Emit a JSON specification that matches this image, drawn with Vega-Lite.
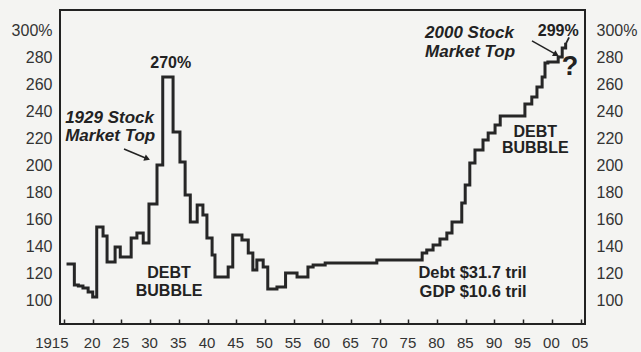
{
  "$schema": "https://vega.github.io/schema/vega-lite/v6.json",
  "width": 525,
  "height": 314,
  "autosize": {"type": "none"},
  "padding": {"left": 60, "top": 10, "right": 56, "bottom": 28},
  "background": "#f4f4f2",
  "config": {
    "view": {"stroke": "#222222", "strokeWidth": 2},
    "font": "Liberation Sans",
    "axis": {"labelOverlap": false, "labelBound": false, "labelFlush": false}
  },
  "datasets": {
    "series": [
      {"year": 1915.7, "value": 127.0},
      {"year": 1916.8, "value": 111.5},
      {"year": 1917.5, "value": 110.7},
      {"year": 1918.3, "value": 109.2},
      {"year": 1919.2, "value": 106.3},
      {"year": 1920.0, "value": 102.6},
      {"year": 1920.7, "value": 154.3},
      {"year": 1921.8, "value": 147.7},
      {"year": 1922.5, "value": 128.5},
      {"year": 1923.9, "value": 139.6},
      {"year": 1924.8, "value": 132.2},
      {"year": 1926.7, "value": 146.2},
      {"year": 1927.7, "value": 149.9},
      {"year": 1928.8, "value": 142.5},
      {"year": 1929.8, "value": 171.3},
      {"year": 1931.2, "value": 200.2},
      {"year": 1932.2, "value": 265.2},
      {"year": 1934.0, "value": 224.6},
      {"year": 1935.2, "value": 202.4},
      {"year": 1936.1, "value": 178.0},
      {"year": 1937.0, "value": 158.0},
      {"year": 1938.2, "value": 170.6},
      {"year": 1939.2, "value": 163.2},
      {"year": 1939.9, "value": 146.2},
      {"year": 1940.8, "value": 133.6},
      {"year": 1941.3, "value": 117.4},
      {"year": 1943.6, "value": 124.8},
      {"year": 1944.4, "value": 148.4},
      {"year": 1946.0, "value": 144.7},
      {"year": 1947.1, "value": 135.1},
      {"year": 1947.9, "value": 122.6},
      {"year": 1948.6, "value": 129.9},
      {"year": 1949.7, "value": 124.8},
      {"year": 1950.5, "value": 108.5},
      {"year": 1952.1, "value": 110.0},
      {"year": 1953.6, "value": 120.3},
      {"year": 1955.6, "value": 117.4},
      {"year": 1957.5, "value": 124.8},
      {"year": 1958.4, "value": 126.2},
      {"year": 1960.5, "value": 127.7},
      {"year": 1969.5, "value": 129.9},
      {"year": 1977.4, "value": 135.1},
      {"year": 1978.2, "value": 137.3},
      {"year": 1979.3, "value": 141.0},
      {"year": 1980.5, "value": 145.5},
      {"year": 1981.7, "value": 149.9},
      {"year": 1982.6, "value": 158.0},
      {"year": 1984.3, "value": 172.1},
      {"year": 1984.9, "value": 185.4},
      {"year": 1985.7, "value": 201.7},
      {"year": 1986.6, "value": 211.3},
      {"year": 1988.0, "value": 218.7},
      {"year": 1988.9, "value": 223.8},
      {"year": 1990.1, "value": 229.8},
      {"year": 1991.0, "value": 236.4},
      {"year": 1995.3, "value": 245.3},
      {"year": 1996.5, "value": 250.5},
      {"year": 1997.4, "value": 257.9},
      {"year": 1998.3, "value": 265.3},
      {"year": 1998.8, "value": 275.6},
      {"year": 1999.3, "value": 276.4},
      {"year": 2001.1, "value": 280.0},
      {"year": 2001.8, "value": 286.7},
      {"year": 2002.4, "value": 289.5}
    ],
    "tail": [
      {"year": 2002.4, "value": 289.5},
      {"year": 2003.0, "value": 294.5}
    ],
    "labels": [
      {"year": 1933.6, "value": 275.6, "text": "270%"},
      {"year": 1933.3, "value": 120.3, "text": "DEBT"},
      {"year": 1933.3, "value": 107.0, "text": "BUBBLE"},
      {"year": 1997.1, "value": 224.6, "text": "DEBT"},
      {"year": 1997.1, "value": 212.8, "text": "BUBBLE"},
      {"year": 2001.1, "value": 299.3, "text": "299%"}
    ],
    "italic": [
      {"year": 1915.2, "value": 234.9, "text": "1929 Stock"},
      {"year": 1915.2, "value": 221.6, "text": "Market Top"},
      {"year": 1977.9, "value": 297.8, "text": "2000 Stock"},
      {"year": 1977.9, "value": 283.7, "text": "Market Top"}
    ],
    "notes": [
      {"year": 1995.6, "value": 120.3, "text": "Debt $31.7 tril"},
      {"year": 1995.6, "value": 106.3, "text": "GDP $10.6 tril"}
    ],
    "question": [
      {"year": 2003.15, "value": 272.6, "text": "?"}
    ],
    "arrows": [
      {"id": "a1929", "year": 1925.45, "value": 212.0, "year2": 1929.3, "value2": 205.2},
      {"id": "a2000", "year": 1996.53, "value": 291.9, "year2": 2000.55, "value2": 282.3}
    ],
    "heads": [
      {"id": "a1929", "year": 1929.5, "value": 204.9},
      {"id": "a2000", "year": 2000.75, "value": 281.8}
    ]
  },
  "resolve": {"axis": {"y": "independent"}},
  "layer": [
    {
      "data": {"name": "series"},
      "mark": {"type": "line", "interpolate": "step-after", "color": "#262626", "strokeWidth": 3, "strokeJoin": "miter", "strokeCap": "square"},
      "encoding": {
        "x": {
          "field": "year", "type": "quantitative",
          "scale": {"domain": [1914.3, 2005.77], "nice": false, "zero": false},
          "axis": {
            "title": null,
            "values": [1915, 1920, 1925, 1930, 1935, 1940, 1945, 1950, 1955, 1960, 1965, 1970, 1975, 1980, 1985, 1990, 1995, 2000, 2005],
            "tickCount": 40,
            "labelExpr": "datum.value == 1915 ? '1915' : substring(toString(datum.value), 2, 4)",
            "labelAlign": {"condition": {"test": "datum.value == 1915", "value": "right"}, "value": "center"},
            "labelOffset": {"condition": {"test": "datum.value == 1915", "value": 4}, "value": -1},
            "domain": false, "grid": false,
            "ticks": true, "tickSize": -5, "tickColor": "#222222", "tickWidth": 1.5,
            "labelFontSize": 15, "labelColor": "#333333", "labelPadding": 16,
            "labelFlush": false, "labelOverlap": false, "labelBound": false
          }
        },
        "y": {
          "field": "value", "type": "quantitative",
          "scale": {"domain": [82.6, 314.8], "nice": false, "zero": false},
          "axis": {
            "title": null, "orient": "left",
            "values": [100, 120, 140, 160, 180, 200, 220, 240, 260, 280, 300],
            "tickCount": 20,
            "labelExpr": "datum.value == 300 ? '300%' : datum.label",
            "domain": false, "grid": false, "ticks": false,
            "labelFontSize": 16, "labelColor": "#333333", "labelPadding": 8,
            "labelOverlap": false
          }
        }
      }
    },
    {
      "data": {"name": "labels"},
      "mark": {"type": "text", "fontWeight": "bold", "fontSize": 16, "color": "#222222", "align": "center", "baseline": "middle"},
      "encoding": {
        "x": {"field": "year", "type": "quantitative"},
        "y": {
          "field": "value", "type": "quantitative",
          "axis": {
            "title": null, "orient": "right",
            "values": [100, 120, 140, 160, 180, 200, 220, 240, 260, 280, 300],
            "tickCount": 20,
            "labelExpr": "datum.value == 300 ? '300%' : datum.label",
            "domain": false, "grid": false, "ticks": false,
            "labelFontSize": 16, "labelColor": "#333333", "labelPadding": 11,
            "labelOverlap": false
          }
        },
        "text": {"field": "text"}
      }
    },
    {
      "data": {"name": "tail"},
      "mark": {"type": "line", "color": "#262626", "strokeWidth": 1.8},
      "encoding": {
        "x": {"field": "year", "type": "quantitative"},
        "y": {"field": "value", "type": "quantitative", "axis": null}
      }
    },
    {
      "data": {"name": "italic"},
      "mark": {"type": "text", "fontWeight": "bold", "fontStyle": "italic", "fontSize": 17, "color": "#222222", "align": "left", "baseline": "middle"},
      "encoding": {
        "x": {"field": "year", "type": "quantitative"},
        "y": {"field": "value", "type": "quantitative", "axis": null},
        "text": {"field": "text"}
      }
    },
    {
      "data": {"name": "notes"},
      "mark": {"type": "text", "fontWeight": "bold", "fontSize": 16.5, "color": "#222222", "align": "right", "baseline": "middle"},
      "encoding": {
        "x": {"field": "year", "type": "quantitative"},
        "y": {"field": "value", "type": "quantitative", "axis": null},
        "text": {"field": "text"}
      }
    },
    {
      "data": {"name": "question"},
      "mark": {"type": "text", "fontWeight": "bold", "fontSize": 27, "color": "#222222", "align": "center", "baseline": "middle"},
      "encoding": {
        "x": {"field": "year", "type": "quantitative"},
        "y": {"field": "value", "type": "quantitative", "axis": null},
        "text": {"field": "text"}
      }
    },
    {
      "data": {"name": "arrows"},
      "mark": {"type": "rule", "color": "#222222", "strokeWidth": 1.5},
      "encoding": {
        "x": {"field": "year", "type": "quantitative"},
        "y": {"field": "value", "type": "quantitative", "axis": null},
        "x2": {"field": "year2"},
        "y2": {"field": "value2"}
      }
    },
    {
      "data": {"name": "heads"},
      "transform": [{"filter": "datum.id == 'a1929'"}],
      "mark": {"type": "point", "shape": "triangle-right", "filled": true, "color": "#222222", "size": 45, "angle": 22, "opacity": 1},
      "encoding": {
        "x": {"field": "year", "type": "quantitative"},
        "y": {"field": "value", "type": "quantitative", "axis": null}
      }
    },
    {
      "data": {"name": "heads"},
      "transform": [{"filter": "datum.id == 'a2000'"}],
      "mark": {"type": "point", "shape": "triangle-right", "filled": true, "color": "#222222", "size": 45, "angle": 31, "opacity": 1},
      "encoding": {
        "x": {"field": "year", "type": "quantitative"},
        "y": {"field": "value", "type": "quantitative", "axis": null}
      }
    }
  ]
}
